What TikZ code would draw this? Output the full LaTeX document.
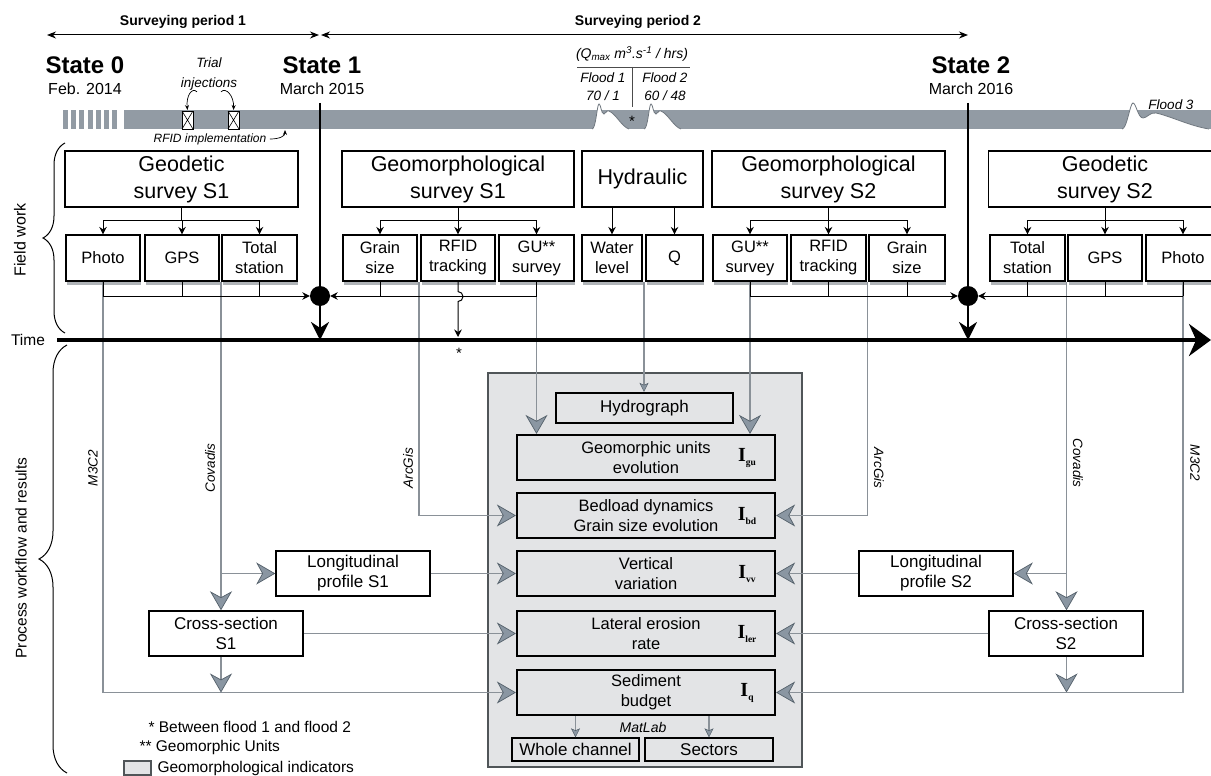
\documentclass[tikz,border=0pt]{standalone}
\usepackage{fontspec}
\setmainfont{Liberation Sans}
\newfontfamily\serifI{Liberation Serif}
\usetikzlibrary{arrows.meta,shadows,decorations.pathreplacing,calc}
\definecolor{bandgray}{RGB}{146,155,164}
\definecolor{floodline}{RGB}{110,118,126}
\definecolor{linegray}{RGB}{138,145,152}
\definecolor{arrfill}{RGB}{138,150,162}
\definecolor{arrdraw}{RGB}{85,97,107}
\definecolor{panelfill}{RGB}{227,228,230}
\definecolor{paneldraw}{RGB}{80,85,88}
\definecolor{shadowgray}{RGB}{176,180,184}
\newcommand{\fsz}[2]{\fontsize{#1}{#2}\selectfont}
\newcommand{\Ilab}[1]{{\serifI\bfseries\fsz{20}{20}I\raisebox{-0.5ex}{\fsz{9.5}{9.5}#1}}}
\begin{document}
\begin{tikzpicture}[x=1pt,y=-1pt,
  bigbox/.style={draw, line width=1.8pt, fill=white, minimum height=56pt, align=center, inner sep=0pt, font=\fsz{21.5}{27}},
  smallbox/.style={draw, line width=1.1pt, fill=white, minimum height=46pt, align=center, inner sep=0pt, font=\fsz{16.5}{20}, drop shadow={shadow xshift=1pt, shadow yshift=-3.5pt, fill=shadowgray, opacity=1}},
  probox/.style={draw, line width=1.5pt, fill=white, minimum width=154pt, minimum height=45pt, align=center, inner sep=0pt, font=\fsz{17}{20}},
  cbox/.style={draw, line width=2.2pt, fill=panelfill, minimum width=258pt, minimum height=45pt, align=center, inner sep=0pt, font=\fsz{16.5}{20}},
  obox/.style={draw, line width=1.3pt, fill=panelfill, minimum height=23pt, align=center, inner sep=0pt, font=\fsz{17}{20}},
  bl/.style={line width=1pt},
  blk/.style={line width=1pt, -{Stealth[length=7.5pt,width=7.5pt]}},
  gl/.style={draw=linegray, line width=1.9pt},
  garr/.style={gl, -{Stealth[length=19pt,width=22pt,inset=6pt,color=arrdraw,fill=arrfill,line width=0.7pt]}},
  gsm/.style={draw=linegray, line width=1.4pt, -{Stealth[length=9pt,width=9pt,inset=2pt,color=arrdraw,fill=arrfill,line width=0.5pt]}},
  itl/.style={font=\itshape\fsz{13.5}{18}},
  dotn/.style={circle, fill=black, minimum size=20pt, inner sep=0pt}
]
\useasboundingbox (0,0) rectangle (1211,776);
\clip (0,0) rectangle (1211,776);

% ---------- band ----------
\fill[bandgray] (124,110) rectangle (1211,129);
\foreach \i in {0,...,6} \fill[bandgray] ({63+\i*8.2},110) rectangle ({68+\i*8.2},129);
\foreach \sx in {592,644}{
  \fill[white] (\sx,129) .. controls ({\sx+4},129) and ({\sx+5},104) .. ({\sx+7},104) .. controls ({\sx+9},104) and ({\sx+9},114) .. ({\sx+12},114) .. controls ({\sx+14},114) and ({\sx+14},110) .. ({\sx+17},111) .. controls ({\sx+24},114) and ({\sx+30},127) .. ({\sx+37},129) -- cycle;
  \draw[floodline, line width=0.8pt] (\sx,129) .. controls ({\sx+4},129) and ({\sx+5},104) .. ({\sx+7},104) .. controls ({\sx+9},104) and ({\sx+9},114) .. ({\sx+12},114) .. controls ({\sx+14},114) and ({\sx+14},110) .. ({\sx+17},111) .. controls ({\sx+24},114) and ({\sx+30},127) .. ({\sx+37},129);
}
\fill[white] (1122,129) .. controls (1127,129) and (1130,103) .. (1133,103) .. controls (1136,103) and (1138,118) .. (1143,118) .. controls (1147,118) and (1150,112) .. (1156,113) .. controls (1170,116) and (1190,126) .. (1209,129) -- cycle;
\draw[floodline, line width=0.8pt] (1122,129) .. controls (1127,129) and (1130,103) .. (1133,103) .. controls (1136,103) and (1138,118) .. (1143,118) .. controls (1147,118) and (1150,112) .. (1156,113) .. controls (1170,116) and (1190,126) .. (1209,129);
\node[font=\fsz{15}{15}] (star1) at (632,121) {*};

% trial injection markers
\foreach \bx in {182,228}{
  \draw[fill=white, line width=0.8pt] (\bx,111) rectangle ({\bx+11},129);
  \draw[line width=0.6pt] (\bx,111) -- ({\bx+11},129) (\bx,129) -- ({\bx+11},111);
}

% ---------- top texts ----------
\node[font=\bfseries\fsz{14}{16}] (sp1) at (183,22) {Surveying period 1};
\node[font=\bfseries\fsz{14}{16}] (sp2) at (638,22) {Surveying period 2};
\coordinate (p1l) at (47,35); \coordinate (p1r) at (319,35);
\coordinate (p2l) at (321,35); \coordinate (p2r) at (968,35);
\draw[line width=1pt, {Stealth[length=9pt,width=7pt]}-{Stealth[length=9pt,width=7pt]}] (p1l) -- (p1r);
\draw[line width=1pt, {Stealth[length=9pt,width=7pt]}-{Stealth[length=9pt,width=7pt]}] (p2l) -- (p2r);

\node[font=\bfseries\fsz{24}{28}] (s0) at (85,65) {State 0};
\node[font=\fsz{16}{18}] (d0) at (85,89) {Feb. 2014};
\node[font=\bfseries\fsz{24}{28}] (s1) at (322,65) {State 1};
\node[font=\fsz{16}{18}] (d1) at (322,89) {March 2015};
\node[font=\bfseries\fsz{24}{28}] (s2) at (971,65) {State 2};
\node[font=\fsz{16}{18}] (d2) at (971,89) {March 2016};

\node[itl, align=center, font=\itshape\fsz{13.5}{20}] (trial) at (209,74) {Trial\\injections};
\draw[line width=0.7pt, -{Stealth[length=5pt,width=4pt]}] (trial.south) ++(-12,-2) .. controls ++(-5,-5) and (186,96) .. (187.5,110);
\draw[line width=0.7pt, -{Stealth[length=5pt,width=4pt]}] (trial.south) ++(12,-2) .. controls ++(5,-5) and (234,96) .. (233.5,110);
\node[font=\itshape\fsz{12}{14}] (rfidimp) at (210,139) {RFID implementation};
\draw[line width=0.7pt, -{Stealth[length=5pt,width=4pt]}] (rfidimp.east) .. controls ++(10,0) and (285,136) .. (285,130);

\node[font=\itshape\fsz{14}{16}] (qmax) at (632,54) {(Q\textsubscript{max} m\textsuperscript{3}.s\textsuperscript{-1} / hrs)};
\coordinate (qlL) at (577,67); \coordinate (qlR) at (690,67);
\draw[line width=0.8pt, black!70] (qlL) -- (qlR);
\draw[line width=0.8pt, black!70] ($(qlL)!0.49!(qlR)$) -- ++(0,40);
\node[font=\itshape\fsz{13.5}{18}, align=center] (fl1) at (603,87) {Flood 1\\70 / 1};
\node[font=\itshape\fsz{13.5}{18}, align=center] (fl2) at (665,87) {Flood 2\\60 / 48};
\node[font=\itshape\fsz{13.5}{16}] (fl3) at (1171,105) {Flood 3};

% ---------- central panel ----------
\node[draw=paneldraw, fill=panelfill, line width=2pt, minimum width=314pt, minimum height=394pt, inner sep=0pt] (panel) at (645,570) {};
\node[draw, line width=2.2pt, fill=panelfill, minimum width=177pt, minimum height=30pt, inner sep=0pt, font=\fsz{17}{20}] (hgr) at (644.5,408) {Hydrograph};
\node[cbox] (gue) at (646,457.5) {Geomorphic units\\evolution};
\node[cbox] (bed) at (646,515.5) {Bedload dynamics\\Grain size evolution};
\node[cbox] (vv) at (646,573.5) {Vertical\\variation};
\node[cbox] (lat) at (646,633.5) {Lateral erosion\\rate};
\node[cbox] (sed) at (646,692.5) {Sediment\\budget};
\node (igu) at (747,458) {\Ilab{gu}};
\node (ibd) at (747,516) {\Ilab{bd}};
\node (ivv) at (747,574) {\Ilab{vv}};
\node (iler) at (747,634) {\Ilab{ler}};
\node (iq) at (747,693) {\Ilab{q}};
\node[font=\itshape\fsz{14}{16}] (matlab) at (643,727) {MatLab};
\node[obox, minimum width=127pt] (wc) at (575.5,749.5) {Whole channel};
\node[obox, minimum width=128pt] (sec) at (709,749.5) {Sectors};

% ---------- process boxes ----------
\node[probox] (lp1) at (353,573.5) {Longitudinal\\profile S1};
\node[probox] (cs1) at (226,633.5) {Cross-section\\S1};
\node[probox] (lp2) at (936,573.5) {Longitudinal\\profile S2};
\node[probox] (cs2) at (1066,633.5) {Cross-section\\S2};

% ---------- field work boxes ----------
\node[bigbox, minimum width=233pt] (gs1) at (181.5,179) {Geodetic\\survey S1};
\node[bigbox, minimum width=232pt] (gm1) at (458,179) {Geomorphological\\survey S1};
\node[bigbox, minimum width=121pt] (hyd) at (642.5,179) {Hydraulic};
\node[bigbox, minimum width=233pt] (gm2) at (828.5,179) {Geomorphological\\survey S2};
\node[bigbox, minimum width=233pt] (gs2) at (1105,179) {Geodetic\\survey S2};

\node[smallbox, minimum width=74pt] (ph1) at (103,258) {Photo};
\node[smallbox, minimum width=74pt] (gps1) at (182,258) {GPS};
\node[smallbox, minimum width=75pt] (ts1) at (259.5,258) {Total\\station};
\node[smallbox, minimum width=74pt] (gr1) at (380,258) {Grain\\size};
\node[smallbox, minimum width=74pt] (rf1) at (458,258) {RFID\\tracking};
\node[smallbox, minimum width=75pt] (gu1) at (536.5,258) {GU**\\survey};
\node[smallbox, minimum width=60pt] (wl) at (612,258) {Water\\level};
\node[smallbox, minimum width=57pt] (qq) at (674.5,258) {Q};
\node[smallbox, minimum width=74pt] (gu2) at (750,258) {GU**\\survey};
\node[smallbox, minimum width=75pt] (rf2) at (828.5,258) {RFID\\tracking};
\node[smallbox, minimum width=76pt] (gr2) at (907,258) {Grain\\size};
\node[smallbox, minimum width=75pt] (ts2) at (1027.5,258) {Total\\station};
\node[smallbox, minimum width=74pt] (gps2) at (1105,258) {GPS};
\node[smallbox, minimum width=74pt] (ph2) at (1183,258) {Photo};

\node[dotn] (dotA) at (320,296) {};
\node[dotn] (dotB) at (968,296) {};

% ---------- gray process lines ----------
\coordinate (cov1) at (221,282);
\coordinate (arc1) at (419,282);
\coordinate (hq) at (644,282);
\coordinate (arc2) at (867.5,282);
\coordinate (cov2) at (1066.5,282);
\draw[garr] (ph1.south) -- (ph1.south |- sed.west) -- (sed.west);
\draw[garr] (cov1) -- (cov1 |- cs1.north);
\draw[garr] (cov1 |- lp1.west) -- (lp1.west);
\draw[garr] (cs1.south -| cov1) -- (cov1 |- sed.west);
\draw[garr] (cs1.east) -- (lat.west);
\draw[garr] (lp1.east) -- (vv.west);
\draw[garr] (arc1) -- (arc1 |- bed.west) -- (bed.west);
\draw[garr] (gu1.south) -- (gu1.south |- gue.north);
\draw[gsm] (hq) -- (hq |- hgr.north);
\draw[garr] (gu2.south) -- (gu2.south |- gue.north);
\draw[garr] (arc2) -- (arc2 |- bed.east) -- (bed.east);
\draw[garr] (cov2) -- (cov2 |- cs2.north);
\draw[garr] (cov2 |- lp2.east) -- (lp2.east);
\draw[garr] (cs2.south -| cov2) -- (cov2 |- sed.east);
\draw[garr] (cs2.west) -- (lat.east);
\draw[garr] (lp2.west) -- (vv.east);
\draw[garr] (ph2.south) -- (ph2.south |- sed.east) -- (sed.east);
\draw[gsm] (sed.south -| wc.north) -- (wc.north);
\draw[gsm] (sed.south -| sec.north) -- (sec.north);

\node[itl, rotate=90] (m3a) at (93,468) {M3C2};
\node[itl, rotate=90] (cva) at (210,468) {Covadis};
\node[itl, rotate=90] (aga) at (408,468) {ArcGis};
\node[itl, rotate=-90] (agb) at (879,468) {ArcGis};
\node[itl, rotate=-90] (cvb) at (1078,463) {Covadis};
\node[itl, rotate=-90] (m3b) at (1195,463) {M3C2};

% ---------- time axis ----------
\coordinate (tL) at (57,340); \coordinate (tR) at (1211,340);
\draw[line width=4pt, -{Stealth[length=22pt,width=32pt]}] (tL) -- (tR);
\node[font=\fsz{15.5}{18}] (time) at (28,340) {Time};

% ---------- black connectors ----------
\coordinate (gbar) at (0,220);
\coordinate (bbar) at (0,296);
\foreach \p/\a/\b/\c in {gs1/ph1/gps1/ts1, gm1/gr1/rf1/gu1, gm2/gu2/rf2/gr2, gs2/ts2/gps2/ph2}{
  \draw[bl] (\p.south) -- (\p.south |- gbar);
  \draw[bl] (\a.north |- gbar) -- (\c.north |- gbar);
  \draw[blk] (\a.north |- gbar) -- (\a.north);
  \draw[blk] (\b.north |- gbar) -- (\b.north);
  \draw[blk] (\c.north |- gbar) -- (\c.north);
}
\draw[blk] (hyd.south -| wl.north) -- (wl.north);
\draw[blk] (hyd.south -| qq.north) -- (qq.north);
\draw[bl] (ph1.south) -- (ph1.south |- bbar);
\draw[bl] (gps1.south) -- (gps1.south |- bbar);
\draw[bl] (ts1.south) -- (ts1.south |- bbar);
\draw[blk] (ph1.south |- bbar) -- (dotA.west);
\draw[bl] (gr1.south) -- (gr1.south |- bbar);
\draw[bl] (gu1.south) -- (gu1.south |- bbar);
\draw[blk] (gu1.south |- bbar) -- (dotA.east);
\draw[blk] (rf1.south) -- ++(0,10) arc[start angle=-90, end angle=90, radius=5] -- (rf1.south |- 0,337);
\node[font=\fsz{15}{15}] (star2) at (459,353) {*};
\draw[bl] (gu2.south) -- (gu2.south |- bbar);
\draw[bl] (rf2.south) -- (rf2.south |- bbar);
\draw[bl] (gr2.south) -- (gr2.south |- bbar);
\draw[blk] (gu2.south |- bbar) -- (dotB.west);
\draw[bl] (ts2.south) -- (ts2.south |- bbar);
\draw[bl] (gps2.south) -- (gps2.south |- bbar);
\draw[bl] (ph2.south) -- (ph2.south |- bbar);
\draw[blk] (ph2.south |- bbar) -- (dotB.east);
\draw[line width=2.5pt] (320,103) -- (dotA.north);
\draw[line width=2.5pt] (968,103) -- (dotB.north);
\draw[line width=2.5pt, -{Stealth[length=18pt,width=18pt]}] (dotA.south) -- (dotA.south |- tL);
\draw[line width=2.5pt, -{Stealth[length=18pt,width=18pt]}] (dotB.south) -- (dotB.south |- tL);

% ---------- braces ----------
\draw[line width=1pt, decorate, decoration={brace, amplitude=22pt, aspect=0.5}] (65,333) -- (65,143);
\node[font=\fsz{16}{18}, rotate=90] (fw) at (20,240) {Field work};
\draw[line width=1pt, decorate, decoration={brace, amplitude=28pt, aspect=0.5}] (67,773) -- (67,345);
\node[font=\fsz{15.5}{18}, rotate=90] (pw) at (21,558) {Process workflow and results};

% ---------- legend ----------
\node[anchor=west, font=\fsz{15.5}{18}] (lg1) at (145,727) {* Between flood 1 and flood 2};
\node[anchor=west, font=\fsz{15.5}{18}] (lg2) at (136,747) {** Geomorphic Units};
\node[draw=paneldraw, fill=panelfill, line width=1.3pt, minimum width=27pt, minimum height=14pt, inner sep=0pt] (lgbox) at (137.5,768) {};
\node[anchor=west, font=\fsz{15.5}{18}] (lg3) at (154,768) {Geomorphological indicators};
\end{tikzpicture}
\end{document}
